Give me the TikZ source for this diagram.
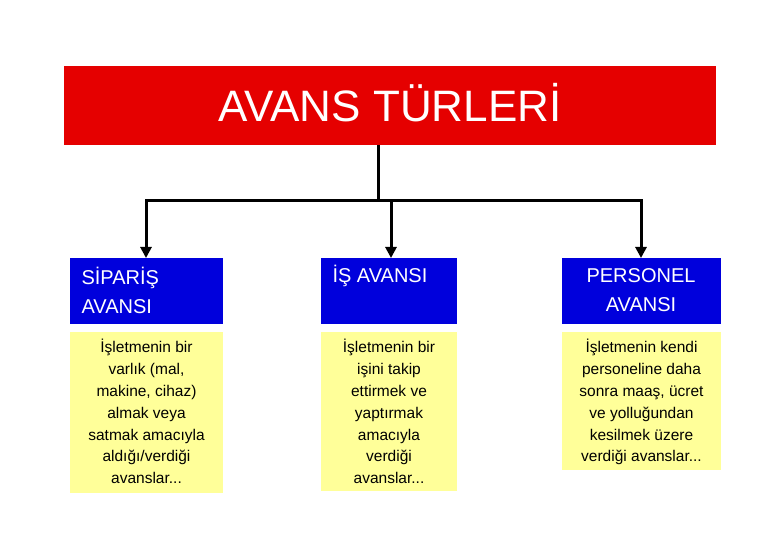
\documentclass[tikz,border=0pt]{standalone}
\usepackage{fontspec}
\setmainfont{Liberation Sans}
\usetikzlibrary{arrows.meta}
\begin{document}
\begin{tikzpicture}[x=1pt,y=-1pt,
  bluetext/.style={text=white,font=\fontsize{20}{29}\selectfont},
  yeltext/.style={font=\fontsize{15.5}{21.8}\selectfont,align=center,anchor=north},
  conn/.style={line width=3pt},
  arr/.style={line width=3pt,-{Triangle[length=11pt,width=11pt]}}]
\useasboundingbox (0,0) rectangle (780,540);
\definecolor{yel}{RGB}{255,255,153}
\definecolor{bl}{RGB}{0,0,220}
\fill[red!90!black] (64,66) rectangle (716,145);
\node[font=\fontsize{44}{50}\selectfont,text=white] (title) at (390,103) {AVANS TÜRLERİ};
% blue boxes
\fill[bl] (70,258) rectangle (223,324);
\fill[bl] (321,258) rectangle (457,324);
\fill[bl] (562,258) rectangle (721,324);
\node[bluetext,align=left,anchor=west] (b1) at (78,290) {SİPARİŞ\\AVANSI};
\node[bluetext,align=left,anchor=west] (b2) at (329,276) {İŞ AVANSI};
\node[bluetext,align=center] (b3) at (641,290) {PERSONEL\\AVANSI};
% yellow boxes
\fill[yel] (70,332) rectangle (223,493);
\fill[yel] (321,332) rectangle (457,491);
\fill[yel] (562,332) rectangle (721,470);
\node[yeltext] (y1) at (146.5,336) {İşletmenin bir\\varlık (mal,\\makine, cihaz)\\almak veya\\satmak amacıyla\\aldığı/verdiği\\avanslar...};
\node[yeltext] (y2) at (389,336) {İşletmenin bir\\işini takip\\ettirmek ve\\yaptırmak\\amacıyla\\verdiği\\avanslar...};
\node[yeltext] (y3) at (641.5,336) {İşletmenin kendi\\personeline daha\\sonra maaş, ücret\\ve yolluğundan\\kesilmek üzere\\verdiği avanslar...};
% connectors
\coordinate (top) at (378,145);
\coordinate (j) at (378,201);
\coordinate (l) at (146,201);
\coordinate (m) at (391,201);
\coordinate (r) at (641,201);
\coordinate (e1) at (146,258);
\coordinate (e2) at (391,258);
\coordinate (e3) at (641,258);
\draw[conn] (top) -- (j);
\draw[conn,line cap=rect] (l) -- (r);
\draw[arr] (l) -- (e1);
\draw[arr] (m) -- (e2);
\draw[arr] (r) -- (e3);
\end{tikzpicture}
\end{document}
